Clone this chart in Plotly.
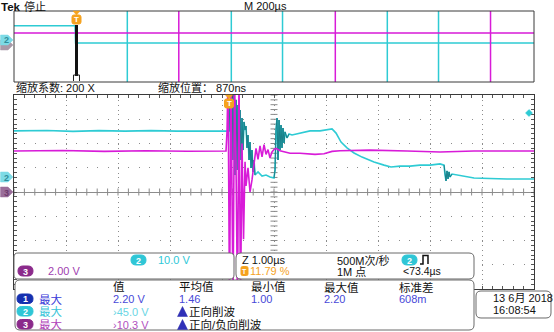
import numpy as np
import plotly.graph_objects as go

W, H = 554, 332
FONT = "Liberation Sans, Noto Sans CJK SC, sans-serif"
CJK = FONT

# ---------------- data ----------------
# Zoomed window: time in µs relative to the trigger
ch2_t = [-4.135, -3.5, -3.0, -2.5, -2.0, -1.5, -1.0, -0.5, 0.0,
         0.019, 0.038, 0.058, 0.077, 0.096, 0.115, 0.135, 0.154, 0.173, 0.192,
         0.212, 0.231, 0.250, 0.269, 0.288, 0.308, 0.327, 0.346, 0.365, 0.385,
         0.404, 0.423, 0.442, 0.462, 0.481, 0.500, 0.558, 0.635, 0.712, 0.788,
         0.865, 0.885, 0.904, 0.923, 0.942, 0.962, 0.981, 1.000, 1.019, 1.038,
         1.058, 1.077, 1.115, 1.154, 1.212, 1.365, 1.558, 1.750, 1.904, 1.981,
         2.058, 2.154, 2.269, 2.404, 2.558, 2.788, 2.981, 3.115, 3.288, 3.481,
         3.673, 3.865, 4.058, 4.135, 4.154, 4.173, 4.192, 4.212, 4.231, 4.250,
         4.288, 4.404, 4.558, 4.712, 5.019, 5.346, 5.865]
ch2_v = [19.0, 19.2, 18.8, 19.1, 18.9, 19.1, 18.9, 19.1, 19.0,
         31.8, -0.4, 36.0, 7.0, 36.0, 0.8, 31.8, 2.9, 29.7, 4.9,
         27.6, 7.0, 24.3, 11.1, 22.7, 19.4, 21.0, 12.0, 17.3, 7.0,
         14.4, 3.7, 11.1, 2.1, 7.0, 0.8, 2.1, 0.4, 0.8, 0.0,
         -0.4, 2.9, 19.4, 24.3, 7.0, 23.5, 11.1, 21.4, 12.0, 20.2,
         14.0, 18.6, 16.1, 17.7, 17.3, 18.1, 19.0, 19.0, 19.4, 19.8,
         18.1, 14.4, 12.0, 9.9, 8.2, 6.2, 4.9, 4.1, 4.5, 4.5,
         4.9, 4.9, 5.4, 4.9, 0.8, -1.6, 2.5, -0.8, 2.1, 0.0,
         1.2, 0.8, 0.0, -0.4, -0.6, -0.8, -0.8]
ch3_t = [-4.135, -3.2, -2.4, -1.6, -0.8, -0.058, -0.038, -0.019, 0.010,
         0.038, 0.077, 0.106, 0.135, 0.163, 0.192, 0.221, 0.250, 0.279, 0.308,
         0.327, 0.365, 0.404, 0.442, 0.481, 0.519, 0.558, 0.596, 0.635, 0.673,
         0.712, 0.750, 0.788, 0.827, 0.865, 0.904, 0.981, 1.173, 1.365, 1.500,
         1.654, 1.827, 1.981, 2.135, 2.712, 3.423, 4.058, 4.712, 5.212, 5.865]
ch3_v = [3.38, 3.42, 3.35, 3.40, 3.36, 3.38, 5.0, 9.5, -9.5,
         9.5, -9.5, 9.5, 2.0, -9.5, 9.5, -9.5, 4.0, -3.9, 2.5,
         0.5, 2.0, 0.0, 1.0, 2.2, 3.6, 2.7, 3.8, 2.9, 3.9,
         3.1, 3.5, 2.8, 3.3, 3.5, 3.6, 3.4, 3.2, 3.2, 3.15,
         3.1, 3.15, 3.35, 3.4, 3.45, 3.38, 3.3, 3.38, 3.4, 3.38]
ringing_windows = [(0.0, 0.5), (0.86, 1.16), (4.13, 4.30)]

# Overview record: time in µs relative to the trigger
ov2_t = [-235.8, -120.0, -1.0, 1.0,
         200, 200, 200, 200, 600, 600, 600, 600, 797, 797, 797, 797,
         1200, 1200, 1200, 1200, 1397, 1397, 1397, 1397, 1764.2]
ov2_v = [19.0, 19.1, 19.0, -0.5,
         -0.5, 45, -50, -0.5, -0.5, 45, -50, -0.5, -0.5, 45, -50, -0.5,
         -0.5, 45, -50, -0.5, -0.5, 45, -50, -0.5, -0.5]
ov3_t = [-235.8, 398, 398, 398, 398, 1000, 1000, 1000, 1000,
         1597, 1597, 1597, 1597, 1764.2]
ov3_v = [3.4, 3.4, 10, -10, 3.4, 3.4, 10, -10, 3.4,
         3.4, 10, -10, 3.4, 3.4]

# Readouts
header_text = ["值", "平均值", "最小值", "最大值", "标准差"]
row1_text = ["2.20 V", "1.46", "1.00", "2.20", "608m"]

CYAN = "#2ecbd4"
MAG = "#d81bd8"
TEAL = "#1b7f88"
ORANGE = "#f5a21e"


def X(x):
    return x / W


def Y(y):
    return 1 - y / H


def rrect(x0, y0, x1, y1, r):
    p = [("M", x0 + r, y0), ("L", x1 - r, y0), ("Q", x1, y0, x1, y0 + r),
         ("L", x1, y1 - r), ("Q", x1, y1, x1 - r, y1), ("L", x0 + r, y1),
         ("Q", x0, y1, x0, y1 - r), ("L", x0, y0 + r), ("Q", x0, y0, x0 + r, y0)]
    s = ""
    for seg in p:
        cmd = seg[0]
        nums = seg[1:]
        coords = []
        for i in range(0, len(nums), 2):
            coords.append("%.5f,%.5f" % (X(nums[i]), Y(nums[i + 1])))
        s += cmd + " ".join(coords) + " "
    return s + "Z"


def poly(pts, close=True):
    s = "M" + " L".join("%.5f,%.5f" % (X(a), Y(b)) for a, b in pts)
    return s + (" Z" if close else "")


shapes = []
annotations = []


def text(x, y, s, color="#111", size=11, bold=False, anchor="left", family=FONT):
    annotations.append(dict(x=X(x), y=Y(y), xref="paper", yref="paper",
                            text=("<b>%s</b>" % s if bold else s), showarrow=False,
                            xanchor=anchor, yanchor="middle", borderpad=0,
                            font=dict(family=family, size=size, color=color)))


def box(x0, y0, x1, y1, r=5, line="#6a6a6a", fill="white", width=1):
    shapes.append(dict(type="path", path=rrect(x0, y0, x1, y1, r), xref="paper",
                       yref="paper", line=dict(color=line, width=width), fillcolor=fill))


def badge(x0, y0, x1, y1, fill, label, tcolor="white", size=9):
    box(x0, y0, x1, y1, r=(y1 - y0) / 2, line=fill, fill=fill)
    text((x0 + x1) / 2, (y0 + y1) / 2 + 0.5, label, tcolor, size, bold=True, anchor="center")


fig = go.Figure()

# graticule centre-line tick marks
hx = np.arange(-5, 5.001, 0.2)
vy = np.arange(-4, 4.001, 0.2)
fig.add_trace(go.Scatter(x=hx, y=np.zeros_like(hx), mode="markers", xaxis="x", yaxis="y",
                         marker=dict(symbol="line-ns", size=5, line=dict(width=1, color="#8a8a8a")),
                         hoverinfo="skip", showlegend=False))
fig.add_trace(go.Scatter(x=np.zeros_like(vy), y=vy, mode="markers", xaxis="x", yaxis="y",
                         marker=dict(symbol="line-ew", size=5, line=dict(width=1, color="#8a8a8a")),
                         hoverinfo="skip", showlegend=False))

# main waveforms
fig.add_trace(go.Scatter(x=ch2_t, y=ch2_v, mode="lines", xaxis="x2", yaxis="y2",
                         line=dict(color=CYAN, width=1.6), showlegend=False))
fig.add_trace(go.Scatter(x=ch3_t, y=ch3_v, mode="lines", xaxis="x2", yaxis="y3",
                         line=dict(color=MAG, width=1.6), showlegend=False))
t2 = np.array(ch2_t)
v2 = np.array(ch2_v)
rx, ry = [], []
for a, b in ringing_windows:
    m = (t2 >= a) & (t2 <= b)
    rx += list(t2[m]) + [None]
    ry += list(v2[m]) + [None]
fig.add_trace(go.Scatter(x=rx, y=ry, mode="lines", xaxis="x2", yaxis="y2",
                         line=dict(color=TEAL, width=1), showlegend=False))

# overview waveforms
fig.add_trace(go.Scatter(x=ov2_t, y=ov2_v, mode="lines", xaxis="x3", yaxis="y4",
                         line=dict(color=CYAN, width=1.5), showlegend=False))
fig.add_trace(go.Scatter(x=ov3_t, y=ov3_v, mode="lines", xaxis="x3", yaxis="y5",
                         line=dict(color=MAG, width=1.5), showlegend=False))

# ---------- decorations ----------
shapes.append(dict(type="rect", xref="paper", yref="paper", x0=X(14), x1=X(534),
                   y0=Y(82), y1=Y(11), line=dict(color="#3a3a3a", width=1)))
shapes.append(dict(type="line", xref="paper", yref="paper", x0=X(76.5), x1=X(76.5),
                   y0=Y(25), y1=Y(76), line=dict(color="#111", width=3)))
shapes.append(dict(type="path", xref="paper", yref="paper",
                   path=poly([(73.5, 81), (73.5, 75), (79.5, 75), (79.5, 81)], close=False),
                   line=dict(color="#222", width=1)))

for tx, ty in [(76.5, 11), (229, 95)]:
    shapes.append(dict(type="path", xref="paper", yref="paper",
                       path=poly([(tx - 3.5, ty), (tx + 3.5, ty), (tx, ty + 4)]),
                       line=dict(color=ORANGE, width=0.5), fillcolor=ORANGE))
    box(tx - 4.5, ty + 4, tx + 4.5, ty + 13, r=2, line=ORANGE, fill=ORANGE)
    text(tx, ty + 8.8, "T", "white", 8, bold=True, anchor="center")


def chan_marker(y, fill, label, tcolor):
    shapes.append(dict(type="path", xref="paper", yref="paper",
                       path=poly([(0.5, y - 5), (8, y - 5), (13, y), (8, y + 5), (0.5, y + 5)]),
                       line=dict(color=fill, width=0.5), fillcolor=fill))
    if label:
        text(6, y + 0.5, label, tcolor, 9, bold=True, anchor="center")


chan_marker(192, "#9a6e9a", "3", "#6e3c6e")
chan_marker(177, "#7ddbe6", "2", "#2f8c9a")
chan_marker(45, "#a99aa9", "", "#777")
chan_marker(40, "#7ddbe6", "2", "#2f8c9a")

shapes.append(dict(type="path", xref="paper", yref="paper",
                   path=poly([(525.5, 113), (529, 109.5), (532.5, 113), (529, 116.5)]),
                   line=dict(color=CYAN, width=0.5), fillcolor=CYAN))

# header texts
text(0, 6.5, "Tek", "#111", 11.5, bold=True)
text(23, 6.5, "停止", "#111", 11, family=CJK)
text(243, 6, "M 200µs", "#111", 11)
text(15, 88, "缩放系数: 200 X", "#111", 11, family=CJK)
text(157, 88, "缩放位置： 870ns", "#111", 11, family=CJK)

# readout boxes
box(14, 253, 234, 279, r=4)
box(236, 253, 474, 279, r=5)
box(15, 280, 474, 330, r=5)
box(476, 291, 551, 318, r=5)

badge(131, 255, 146, 265, "#2fc6d6", "2")
text(157, 260, "10.0 V", "#2ec8d8", 11)
badge(18, 266, 33, 276, "#8b2a8b", "3")
text(47, 271, "2.00 V", "#a040b0", 11)

text(241, 260, "Z 1.00µs", "#111", 11)
box(241, 266.5, 248, 275.5, r=1.5, line=ORANGE, fill=ORANGE)
text(244.5, 271.3, "T", "white", 7, bold=True, anchor="center")
text(249, 271, "11.79 %", ORANGE, 11)
text(336, 260, "500M次/秒", "#111", 11, family=CJK)
text(336, 271.5, "1M 点", "#111", 11, family=CJK)
badge(402, 255, 417, 265, "#2fc6d6", "2")
shapes.append(dict(type="path", xref="paper", yref="paper",
                   path=poly([(420, 264), (423, 264), (423, 255.5), (428, 255.5), (428, 264)], close=False),
                   line=dict(color="#111", width=1.5)))
text(402, 271, "<73.4µs", "#111", 10.5)

# measurement table
hx_pos = [112, 178, 250, 323, 398]
for xp, s in zip(hx_pos, header_text):
    text(xp, 287, s, "#111", 11.5, family=CJK)
badge(17, 294, 33, 303.5, "#1530b0", "1")
badge(17, 306.5, 33, 316, "#2fc6d6", "2")
badge(17, 319.5, 33, 329, "#8b2a8b", "3")
text(38, 299, "最大", "#3a3ad8", 11.5, family=CJK)
text(38, 311.5, "最大", "#38c4d8", 11.5, family=CJK)
text(38, 324.5, "最大", "#b040b8", 11.5, family=CJK)
for xp, s in zip(hx_pos, row1_text):
    text(xp, 299, s, "#4848d8", 11)
text(112, 311.5, "›45.0 V", "#6ad6e4", 11)
text(112, 324.5, "›10.3 V", "#b050c0", 11)
# clipping warning triangles
for ty in (311.5, 324.5):
    shapes.append(dict(type="path", xref="paper", yref="paper",
                       path=poly([(177.5, ty + 5), (182.5, ty - 5), (187.5, ty + 5)]),
                       line=dict(color="#2a2aa8", width=0.5), fillcolor="#3030b8"))
text(188, 311.5, "正向削波", "#111", 11.5, family=CJK)
text(188, 324.5, "正向/负向削波", "#111", 11.5, family=CJK)

# timestamp
text(492, 298, "13 6月 2018", "#111", 11, family=CJK)
text(492, 310, "16:08:54", "#111", 11)

axis_hidden = dict(visible=False, fixedrange=True)

fig.update_layout(
    width=W, height=H, margin=dict(l=0, r=0, t=0, b=0),
    paper_bgcolor="white", plot_bgcolor="white", showlegend=False,
    xaxis=dict(domain=[X(14), X(534)], range=[-5, 5], dtick=1, tick0=0,
               showgrid=True, gridcolor="#8c8c8c", griddash="1px,3.85px", gridwidth=1,
               zeroline=False, showticklabels=False, ticks="inside", ticklen=3,
               tickcolor="#555", showline=True, linecolor="#3a3a3a", linewidth=1,
               mirror="ticks", anchor="y", fixedrange=True,
               minor=dict(dtick=0.2, tick0=0, ticks="inside", ticklen=3,
                          tickcolor="#555", showgrid=False)),
    yaxis=dict(domain=[Y(289), Y(95)], range=[-4, 4], dtick=1, tick0=0,
               showgrid=True, gridcolor="#8c8c8c", griddash="1px,9.4px", gridwidth=1,
               zeroline=True, zerolinecolor="#8c8c8c", zerolinewidth=1,
               showticklabels=False, ticks="inside", ticklen=3, tickcolor="#555",
               showline=True, linecolor="#3a3a3a", linewidth=1, mirror="ticks",
               anchor="x", fixedrange=True,
               minor=dict(dtick=0.2, tick0=0, ticks="inside", ticklen=3,
                          tickcolor="#555", showgrid=False)),
    xaxis2=dict(overlaying="x", range=[-4.135, 5.865], anchor="y", **axis_hidden),
    yaxis2=dict(overlaying="y", range=[-46.19, 33.81], anchor="x", **axis_hidden),
    yaxis3=dict(overlaying="y", range=[-8.0, 8.0], anchor="x", **axis_hidden),
    xaxis3=dict(domain=[X(14), X(534)], range=[-235.8, 1764.2], anchor="y4", **axis_hidden),
    yaxis4=dict(domain=[Y(82), Y(11)], range=[-44.5, 35.5], anchor="x3", **axis_hidden),
    yaxis5=dict(overlaying="y4", range=[-7.64, 8.36], anchor="x3", **axis_hidden),
    shapes=shapes, annotations=annotations,
)

fig.write_html("out.html")
